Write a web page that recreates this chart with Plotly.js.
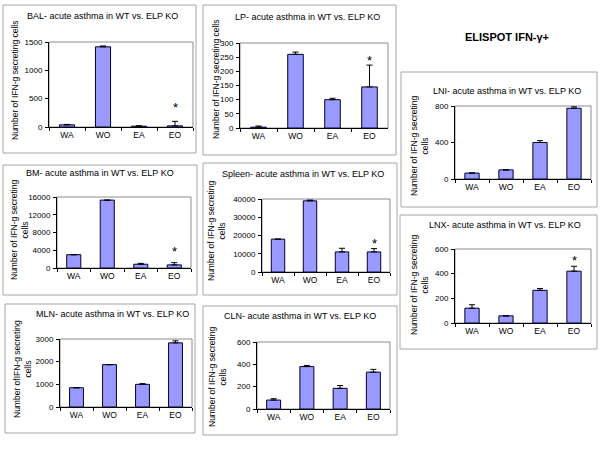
<!DOCTYPE html>
<html><head><meta charset="utf-8">
<script src="https://cdn.plot.ly/plotly-3.0.1.min.js"></script>
<style>html,body{margin:0;padding:0;background:#fff}#chart{width:600px;height:450px}</style>
</head><body><div id="chart"></div>
<script>
// ---- data ----
const categories = ['WA', 'WO', 'EA', 'EO'];
const balValues = [38, 1415, 15, 20];
const balErrors = [8, 15, 5, 80];
const lpValues = [3, 260, 100, 145];
const lpErrors = [4, 8, 5, 77];
const bmValues = [3000, 15300, 850, 700];
const bmErrors = [0, 0, 200, 500];
const spleenValues = [18000, 39000, 11000, 11000];
const spleenErrors = [0, 400, 2000, 1800];
const mlnValues = [850, 1870, 1000, 2830];
const mlnErrors = [0, 0, 30, 90];
const clnValues = [80, 380, 185, 330];
const clnErrors = [12, 10, 25, 25];
const lniValues = [65, 100, 400, 775];
const lniErrors = [0, 0, 20, 15];
const lnxValues = [120, 58, 265, 420];
const lnxErrors = [28, 0, 15, 40];
const starY = [390, 250, 4500, 17500, null, null, 890, 530];

const panelTitles = [
  'BAL- acute asthma in WT vs. ELP KO',
  'LP- acute asthma in WT vs. ELP KO',
  'BM- acute asthma in WT vs. ELP KO',
  'Spleen- acute asthma in WT vs. ELP KO',
  'MLN- acute asthma in WT vs. ELP KO',
  'CLN- acute asthma in WT vs. ELP KO',
  'LNI- acute asthma in WT vs. ELP KO',
  'LNX- acute asthma in WT vs. ELP KO'
];
const yTitles = [
  'Number of IFN-g secreting cells',
  'Number of IFN-g secreting cells',
  'Number of IFN-g secreting<br>cells',
  'Number of IFN-g secreting<br>cells',
  'Number ofIFN-g secreting<br>cells',
  'Number of IFN-g secreting<br>cells',
  'Number of IFN-g secreting<br>cells',
  'Number of IFN-g secreting<br>cells'
];
const yMax = [1500, 300, 16000, 40000, 3000, 600, 800, 600];
const yStep = [500, 50, 4000, 10000, 1000, 200, 400, 200];
const mainTitle = 'ELISPOT IFN-γ+';

const seriesValues = [balValues, lpValues, bmValues, spleenValues, mlnValues, clnValues, lniValues, lnxValues];
const seriesErrors = [balErrors, lpErrors, bmErrors, spleenErrors, mlnErrors, clnErrors, lniErrors, lnxErrors];

// ---- layout geometry (pixels) ----
const W = 600, H = 450;
const plotPx = [[49,193,42,127],[240,388,43,128],[57,191,197,268],[262,390,199,272],
                [60,192,339,407],[257,390,342,409],[455,591,106,179],[455,591,249,323]];
const boxPx = [[3,196,5,153],[203,396,5,155],[3,197,165,295],[203,397,163,295],
               [5,195,304,433],[203,397,306,435],[401,597,72,207],[400,597,215,349]];
const titlePx = [[102,16],[307,17],[100,173],[303,174],[112,314],[300,316],[507,91],[505,225]];
const yTitlePx = [[15,80],[216,79],[20,230],[216,231],[22,369],[217,377],[419,146],[419,285]];

const FONT = 'Liberation Sans, Arial, sans-serif';
const fx = p => p / W;
const fy = p => 1 - p / H;

const traces = [];
const layout = {
  width: W, height: H,
  margin: {l:0, r:0, t:0, b:0},
  paper_bgcolor: '#fff', plot_bgcolor: '#fff',
  showlegend: false,
  bargap: 0.58,
  font: {family: FONT, size: 9, color: '#000'},
  shapes: [], annotations: []
};

for (let i = 0; i < 8; i++) {
  const n = i + 1;
  const xa = 'x' + (n === 1 ? '' : n), ya = 'y' + (n === 1 ? '' : n);
  traces.push({
    type: 'bar', x: categories, y: seriesValues[i], xaxis: xa, yaxis: ya,
    marker: {color: '#9999FF', line: {color: '#000033', width: 1}},
    error_y: {type: 'data', symmetric: false, array: seriesErrors[i],
              arrayminus: seriesValues[i].map(() => 0), color: '#000', thickness: 1, width: 3},
    hoverinfo: 'x+y'
  });
  const p = plotPx[i];
  layout['xaxis' + (n === 1 ? '' : n)] = {
    domain: [fx(p[0]), fx(p[1])], anchor: ya, type: 'category',
    showline: true, linecolor: '#000', linewidth: 1, ticks: 'outside', ticklen: 3,
    tickcolor: '#000', tickson: 'boundaries', showgrid: false, zeroline: false,
    tickfont: {family: FONT, size: 8.5, color: '#000'}, fixedrange: true
  };
  layout['yaxis' + (n === 1 ? '' : n)] = {
    domain: [fy(p[3]), fy(p[2])], anchor: xa, range: [0, yMax[i]], dtick: yStep[i],
    tickformat: 'd',
    showline: true, linecolor: '#000', linewidth: 1, ticks: 'outside', ticklen: 3,
    tickcolor: '#000', showgrid: false, zeroline: false, ticklabelstandoff: 1,
    tickfont: {family: FONT, size: 8, color: '#000'}, fixedrange: true
  };
  // plot area border
  layout.shapes.push({type: 'rect', xref: xa + ' domain', yref: ya + ' domain',
    x0: 0, x1: 1, y0: 0, y1: 1, line: {color: '#8c8c8c', width: 1}, layer: 'below'});
  // panel frame
  const b = boxPx[i];
  layout.shapes.push({type: 'rect', xref: 'paper', yref: 'paper',
    x0: fx(b[0]), x1: fx(b[1]), y0: fy(b[3]), y1: fy(b[2]), line: {color: '#a6a6a6', width: 1}});
  // panel title
  layout.annotations.push({xref: 'paper', yref: 'paper', x: fx(titlePx[i][0]), y: fy(titlePx[i][1]),
    xanchor: 'center', yanchor: 'middle', showarrow: false, text: panelTitles[i],
    font: {family: FONT, size: 9, color: '#000'}});
  // y title
  layout.annotations.push({xref: 'paper', yref: 'paper', x: fx(yTitlePx[i][0]), y: fy(yTitlePx[i][1]),
    xanchor: 'center', yanchor: 'middle', showarrow: false, textangle: -90, text: yTitles[i],
    font: {family: FONT, size: 8.5, color: '#000'}});
  // significance star
  if (starY[i] !== null) {
    layout.annotations.push({xref: xa, yref: ya, x: 'EO', y: starY[i], xanchor: 'center', yanchor: 'middle',
      showarrow: false, text: '*', yshift: -3, font: {family: FONT, size: 13, color: '#000'}});
  }
}
layout.annotations.push({xref: 'paper', yref: 'paper', x: fx(507), y: fy(37), xanchor: 'center', yanchor: 'middle',
  showarrow: false, text: '<b>' + mainTitle + '</b>', font: {family: FONT, size: 11, color: '#000'}});

Plotly.newPlot('chart', traces, layout, {displayModeBar: false, staticPlot: true});
</script></body></html>
